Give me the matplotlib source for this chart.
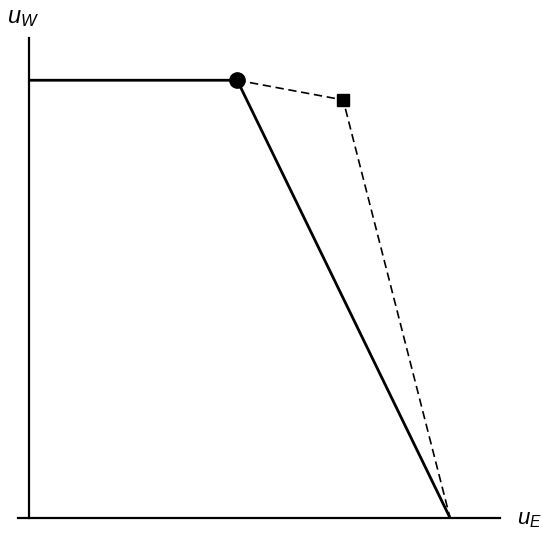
import matplotlib
matplotlib.use("Agg")
import matplotlib.pyplot as plt

plt.rcParams['mathtext.fontset'] = 'custom'
plt.rcParams['mathtext.it'] = 'Liberation Sans:italic'
plt.rcParams['mathtext.rm'] = 'Liberation Sans'

# frontier points (u_E, u_W)
frontier_x = [0.0, 4.42, 8.94]
frontier_y = [9.12, 9.12, 0.0]
circle_pt = (4.42, 9.12)
square_pt = (6.67, 8.71)
dashed_x = [4.42, 6.67, 8.94]
dashed_y = [9.12, 8.71, 0.0]

W, H = 542, 536
fig = plt.figure(figsize=(W / 100, H / 100), dpi=100)
# axes spans pixel x 18..500, y 38..518
ax = fig.add_axes([18 / W, (H - 518) / H, (500 - 18) / W, (518 - 38) / H])
ax.set_xlim(-11 / 47.1, 10)
ax.set_ylim(0, 10)
ax.axis('off')

ax.axhline(0, color='black', lw=1.6, clip_on=False)
ax.axvline(0, color='black', lw=1.6, clip_on=False)

ax.plot(frontier_x, frontier_y, color='black', lw=2.0, solid_capstyle='butt', clip_on=False)
ax.plot(dashed_x, dashed_y, color='black', lw=1.2, ls=(0, (5, 2.8)), clip_on=False)
ax.plot(*circle_pt, 'o', color='black', ms=11, clip_on=False)
ax.plot(*square_pt, 's', color='black', ms=8.5, clip_on=False)

fig.text(7 / W, 1 - 17 / H, '$u_W$', fontsize=17, va='center', ha='left')
fig.text(517 / W, 1 - 520 / H, '$u_E$', fontsize=16, va='center', ha='left')

fig.savefig('out.png', dpi=100)
